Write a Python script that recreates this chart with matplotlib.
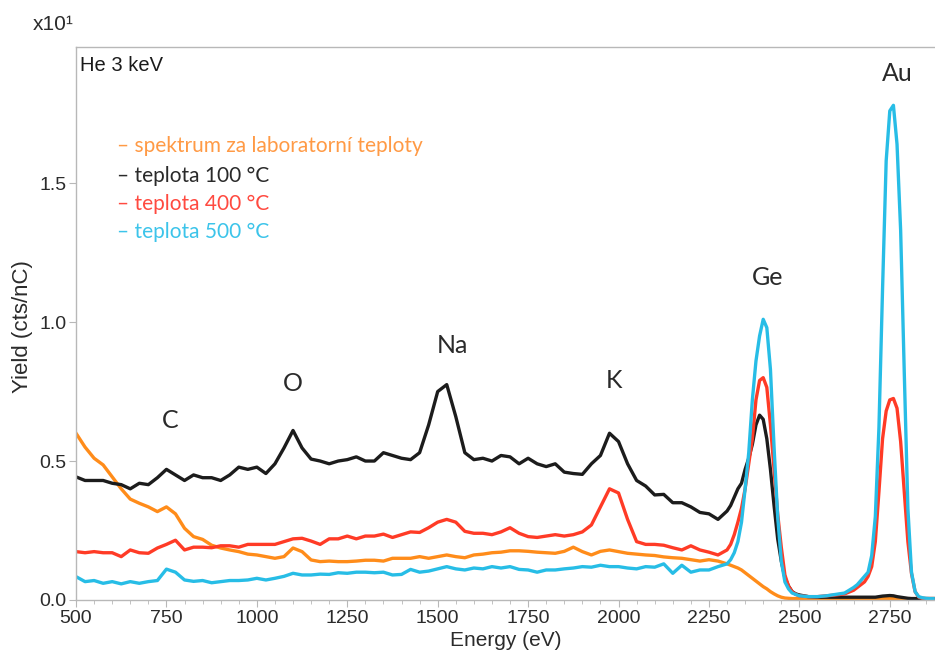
import numpy as np
import matplotlib
matplotlib.use("Agg")
import matplotlib.pyplot as plt
from matplotlib.ticker import MultipleLocator

# energy grid (eV): coarse on the flat part, finer around the Ge and Au peaks
energy = np.r_[np.arange(500, 2301, 25), np.arange(2310, 2501, 10),
               np.arange(2525, 2626, 25), np.arange(2650, 2871, 10)]

# yield (x10 cts/nC)
lab_temp = [0.60, 0.55, 0.51, 0.486, 0.443, 0.40, 0.363, 0.348, 0.335, 0.318,
            0.335, 0.31, 0.258, 0.228, 0.218, 0.197, 0.187, 0.18, 0.174, 0.165,
            0.162, 0.156, 0.15, 0.156, 0.187, 0.174, 0.144, 0.138, 0.14, 0.138,
            0.138, 0.14, 0.143, 0.143, 0.14, 0.15, 0.15, 0.15, 0.156, 0.15,
            0.156, 0.162, 0.156, 0.152, 0.162, 0.165, 0.17, 0.172, 0.177, 0.177,
            0.175, 0.172, 0.17, 0.168, 0.175, 0.19, 0.174, 0.162, 0.175, 0.18,
            0.174, 0.168, 0.165, 0.162, 0.16, 0.155, 0.152, 0.15, 0.145, 0.14,
            0.145, 0.14, 0.13,
            0.125, 0.12, 0.115, 0.108, 0.098, 0.088, 0.078, 0.068, 0.058, 0.048,
            0.04, 0.03, 0.022, 0.015, 0.01, 0.007, 0.006, 0.005, 0.005, 0.005,
            0.005, 0.005, 0.005, 0.005, 0.005,
            0.005, 0.005, 0.005, 0.005, 0.005, 0.005, 0.005, 0.005, 0.005, 0.005,
            0.005, 0.005, 0.005, 0.005, 0.005, 0.005, 0.005, 0.005, 0.005, 0.005,
            0.005, 0.005, 0.005]

t100 = [0.443, 0.43, 0.43, 0.43, 0.42, 0.415, 0.40, 0.42, 0.415, 0.44,
        0.47, 0.45, 0.43, 0.45, 0.44, 0.44, 0.43, 0.45, 0.478, 0.47,
        0.478, 0.455, 0.49, 0.547, 0.61, 0.547, 0.507, 0.50, 0.49, 0.50,
        0.505, 0.515, 0.50, 0.50, 0.53, 0.52, 0.51, 0.505, 0.53, 0.63,
        0.75, 0.775, 0.66, 0.53, 0.505, 0.51, 0.50, 0.52, 0.515, 0.49,
        0.51, 0.49, 0.48, 0.49, 0.46, 0.455, 0.452, 0.49, 0.52, 0.60,
        0.57, 0.49, 0.43, 0.41, 0.378, 0.38, 0.35, 0.35, 0.335, 0.315,
        0.31, 0.29, 0.32,
        0.34, 0.37, 0.40, 0.42, 0.47, 0.51, 0.56, 0.63, 0.665, 0.65,
        0.58, 0.47, 0.34, 0.22, 0.14, 0.08, 0.05, 0.03, 0.022, 0.018,
        0.012, 0.01, 0.01, 0.01, 0.01,
        0.01, 0.01, 0.01, 0.01, 0.01, 0.01, 0.01, 0.012, 0.014, 0.015,
        0.016, 0.015, 0.012, 0.01, 0.008, 0.006, 0.005, 0.005, 0.005, 0.005,
        0.005, 0.005, 0.005]

t400 = [0.174, 0.17, 0.174, 0.17, 0.17, 0.156, 0.18, 0.17, 0.168, 0.187,
        0.20, 0.215, 0.18, 0.19, 0.19, 0.188, 0.195, 0.195, 0.19, 0.20,
        0.20, 0.20, 0.20, 0.21, 0.22, 0.222, 0.212, 0.20, 0.22, 0.22,
        0.23, 0.22, 0.23, 0.23, 0.237, 0.225, 0.235, 0.245, 0.243, 0.26,
        0.28, 0.29, 0.28, 0.247, 0.24, 0.24, 0.235, 0.245, 0.26, 0.24,
        0.228, 0.225, 0.23, 0.235, 0.23, 0.235, 0.245, 0.27, 0.335, 0.40,
        0.385, 0.29, 0.21, 0.20, 0.20, 0.197, 0.188, 0.18, 0.195, 0.18,
        0.172, 0.162, 0.18,
        0.20, 0.235, 0.28, 0.33, 0.40, 0.49, 0.58, 0.72, 0.79, 0.80,
        0.765, 0.63, 0.47, 0.31, 0.19, 0.09, 0.05, 0.03, 0.02, 0.015,
        0.012, 0.012, 0.015, 0.018, 0.022,
        0.035, 0.045, 0.055, 0.065, 0.085, 0.12, 0.21, 0.39, 0.58, 0.68,
        0.72, 0.725, 0.69, 0.57, 0.39, 0.21, 0.095, 0.03, 0.01, 0.006,
        0.005, 0.005, 0.005]

t500 = [0.084, 0.066, 0.07, 0.06, 0.066, 0.058, 0.066, 0.06, 0.066, 0.07,
        0.111, 0.10, 0.072, 0.067, 0.07, 0.062, 0.066, 0.07, 0.07, 0.072,
        0.078, 0.072, 0.078, 0.085, 0.096, 0.09, 0.09, 0.093, 0.092, 0.098,
        0.096, 0.10, 0.10, 0.098, 0.10, 0.09, 0.092, 0.11, 0.10, 0.104,
        0.112, 0.12, 0.112, 0.108, 0.115, 0.112, 0.12, 0.115, 0.12, 0.11,
        0.108, 0.10, 0.108, 0.108, 0.112, 0.115, 0.12, 0.118, 0.125, 0.12,
        0.12, 0.115, 0.112, 0.12, 0.118, 0.13, 0.096, 0.125, 0.10, 0.108,
        0.108, 0.12, 0.13,
        0.145, 0.17, 0.21, 0.28, 0.40, 0.53, 0.72, 0.86, 0.95, 1.01,
        0.98, 0.83, 0.55, 0.30, 0.14, 0.065, 0.04, 0.025, 0.02, 0.015,
        0.012, 0.012, 0.015, 0.02, 0.025,
        0.045, 0.055, 0.07, 0.085, 0.10, 0.16, 0.30, 0.62, 1.12, 1.58,
        1.76, 1.78, 1.64, 1.33, 0.82, 0.33, 0.10, 0.03, 0.012, 0.008,
        0.006, 0.005, 0.005]

series_names = ["spektrum za laboratorní teploty", "teplota 100 °C",
                "teplota 400 °C", "teplota 500 °C"]
line_colors = ["#ff8c1a", "#1c1c1c", "#ff3b26", "#27bde6"]
text_colors = ["#ff9a45", "#2a2a2a", "#ff4a40", "#3cc4ea"]

peak_labels = ["C", "O", "Na", "K", "Ge", "Au"]
peak_x = [760, 1100, 1540, 1988, 2411, 2770]
peak_y = [0.647, 0.78, 0.914, 0.788, 1.162, 1.896]

plt.rcParams['font.family'] = ['Liberation Sans', 'DejaVu Sans']

fig = plt.figure(figsize=(9.35, 6.54), dpi=100)
ax = fig.add_axes([0.0813, 0.0826, 0.9187, 0.8456])

for ys, c in zip([lab_temp, t100, t400, t500], line_colors):
    ax.plot(energy, ys, color=c, lw=2.4, solid_joinstyle='round')

ax.set_xlim(500, 2875)
ax.set_ylim(0, 1.99)
ax.xaxis.set_major_locator(MultipleLocator(250))
ax.xaxis.set_minor_locator(MultipleLocator(50))
ax.yaxis.set_major_locator(MultipleLocator(0.5))
ax.yaxis.set_major_formatter(matplotlib.ticker.FormatStrFormatter('%.1f'))

for s in ['left', 'bottom', 'top']:
    ax.spines[s].set_color('#b8b8b8')
    ax.spines[s].set_linewidth(1.0)
ax.spines['right'].set_visible(False)
ax.tick_params(which='major', length=5, color='#b8b8b8', labelsize=14,
               labelcolor='#2b2b2b', pad=2)
ax.tick_params(which='minor', length=3, color='#b8b8b8')

ax.set_xlabel("Energy (eV)", fontsize=15, color='#2b2b2b')
ax.xaxis.set_label_coords(0.5, -0.056)
ax.set_ylabel("Yield (cts/nC)", fontsize=16, color='#2b2b2b')
ax.yaxis.set_label_coords(-0.05, 0.495)

fig.text(33 / 935, 1 - 25 / 654, "x10¹", fontsize=15, color='#2b2b2b',
         va='center', ha='left')
ax.text(0.005, 0.967, "He 3 keV", transform=ax.transAxes, fontsize=14.5,
        color='#1a1a1a', va='center', ha='left')

# legend drawn as coloured text lines
leg_y = [0.821, 0.767, 0.716, 0.666]
for name, c, yy in zip(series_names, text_colors, leg_y):
    ax.text(0.048, yy, "– " + name, transform=ax.transAxes, fontsize=15,
            color=c, va='center', ha='left', family=['Lato', 'DejaVu Sans'])

for lab, px, py in zip(peak_labels, peak_x, peak_y):
    ax.text(px, py, lab, fontsize=18, color='#2a2a2a', ha='center', va='center',
            family=['Lato', 'DejaVu Sans'])

fig.savefig("out.png", dpi=100)
